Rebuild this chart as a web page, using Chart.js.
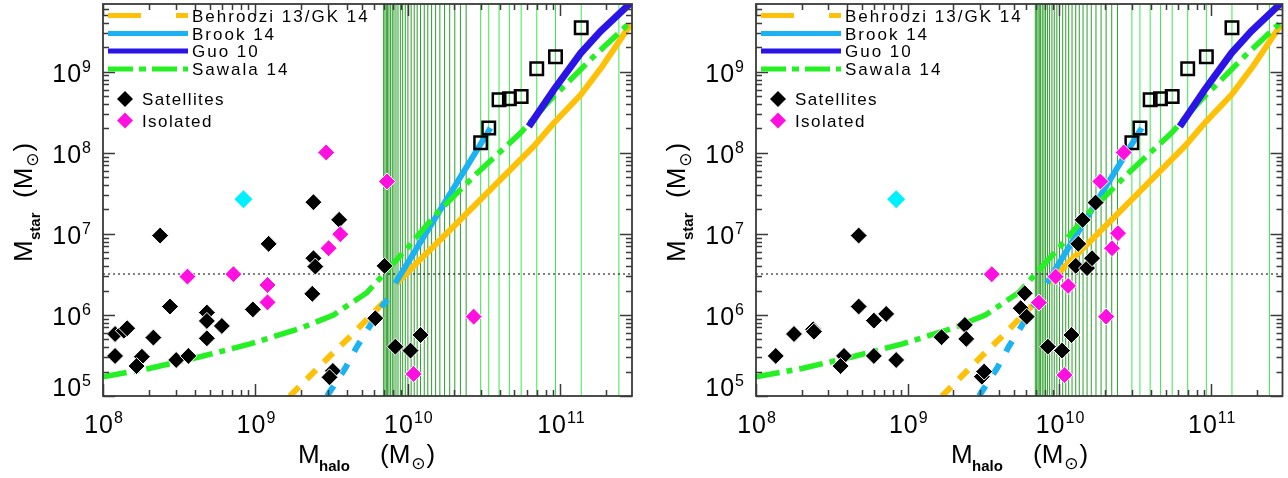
<!DOCTYPE html>
<html>
<head>
<meta charset="utf-8">
<script src="https://cdn.jsdelivr.net/npm/chart.js@4.4.1/dist/chart.umd.min.js"></script>
<style>
  html, body { margin: 0; padding: 0; background: #fff; }
  #wrap { position: relative; width: 1288px; height: 478px; }
  .panel { position: absolute; top: 0; width: 644px; height: 478px; }
</style>
</head>
<body>
<div id="wrap">
  <div class="panel" style="left:0"><canvas id="left"></canvas></div>
  <div class="panel" style="left:644px"><canvas id="right"></canvas></div>
</div>
<script>
// ============================================================
// Mstar vs Mhalo — two log-log panels
// ============================================================

const X_MIN = 1e8, X_MAX = 2.95e11;
const Y_MIN = 1e5, Y_MAX = 6.85e9;
const STAR_LIMIT = 3.2e6;

const X_DECADES = [8, 9, 10, 11];
const Y_DECADES = [5, 6, 7, 8, 9];

const legendNames = ['Behroozi 13/GK 14', 'Brook 14', 'Guo 10', 'Sawala 14'];
const markerNames = ['Satellites', 'Isolated'];

// ── model relations (shared by both panels) ─────────────────
const behrooziDashHalo = [1.68e9, 3.13e9, 4.14e9, 7.11e9, 7.59e9];
const behrooziDashStar = [1.00e5, 3.21e5, 5.31e5, 1.50e6, 1.70e6];
const behrooziHalo = [8.47e9, 1.17e10, 1.63e10, 3.30e10, 6.68e10, 9.06e10, 1.36e11, 1.88e11, 2.88e11];
const behrooziStar = [2.46e6, 4.57e6, 8.43e6, 3.18e7, 1.20e8, 2.33e8, 5.20e8, 1.16e9, 3.80e9];

const brookDashHalo = [2.95e9, 3.88e9, 4.63e9, 6.87e9, 7.33e9];
const brookDashStar = [1.00e5, 2.20e5, 4.06e5, 1.33e6, 1.55e6];
const brookHalo = [8.26e9, 3.48e10];
const brookStar = [2.46e6, 2.02e8];

const guoHalo = [6.21e10, 9.06e10, 1.36e11, 1.83e11, 2.81e11, 2.95e11];
const guoStar = [2.11e8, 6.00e8, 1.70e9, 3.15e9, 6.71e9, 7.24e9];

const sawalaHalo = [1.00e8, 2.04e8, 4.34e8, 9.23e8, 1.97e9, 3.25e9, 5.38e9, 8.05e9, 1.01e10,
                    1.55e10, 2.84e10, 5.47e10, 8.61e10, 1.66e11, 2.95e11];
const sawalaStar = [1.72e5, 2.20e5, 3.05e5, 4.39e5, 6.85e5, 1.00e6, 1.88e6, 4.35e6, 6.97e6,
                    1.80e7, 5.61e7, 1.75e8, 4.51e8, 1.55e9, 4.27e9];

// open squares (same in both panels)
const squareHalo = [3.00e10, 3.39e10, 3.96e10, 4.63e10, 5.53e10, 7.00e10, 9.29e10, 1.37e11];
const squareStar = [1.33e8, 2.02e8, 4.51e8, 4.64e8, 4.96e8, 1.09e9, 1.53e9, 3.49e9];

// vertical marker lines
const darkLines = [6.93e9, 7.07e9, 7.22e9, 7.36e9, 7.51e9, 7.70e9, 7.90e9, 8.10e9, 8.35e9, 8.61e9,
                   8.92e9, 9.24e9, 9.61e9, 1.00e10, 1.05e10, 1.10e10, 1.15e10, 1.21e10, 1.28e10,
                   1.35e10, 1.43e10, 1.52e10, 1.62e10, 1.74e10, 1.88e10, 2.03e10, 2.21e10, 2.41e10];
const lightLines = [3.00e10, 3.39e10, 3.96e10, 4.63e10, 5.53e10, 7.00e10, 9.29e10, 1.37e11, 2.42e11];

// ── left panel points ───────────────────────────────────────
const satHaloL = [1.20e8, 1.37e8, 1.44e8, 1.20e8, 1.80e8, 1.66e8, 2.14e8, 2.37e8, 2.75e8, 3.02e8,
                  3.63e8, 4.80e8, 4.80e8, 4.80e8, 6.02e8, 9.61e8, 1.22e9, 2.40e9, 2.40e9, 2.47e9,
                  2.36e9, 3.54e9, 7.03e9, 6.11e9, 3.22e9, 3.06e9, 8.27e9, 1.04e10, 1.21e10];
const satStarL = [5.82e5, 6.40e5, 6.85e5, 3.12e5, 3.05e5, 2.34e5, 5.25e5, 9.53e6, 1.27e6, 2.78e5,
                  3.12e5, 1.07e6, 8.43e5, 5.15e5, 7.31e5, 1.17e6, 7.53e6, 2.46e7, 5.01e6, 3.95e6,
                  1.82e6, 1.49e7, 4.03e6, 9.10e5, 2.04e5, 1.70e5, 4.06e5, 3.63e5, 5.66e5];
const isoHaloL = [2.91e9, 7.29e9, 3.60e9, 3.02e9, 3.58e8, 7.17e8, 1.20e9, 1.20e9, 2.70e10, 1.09e10];
const isoStarL = [1.01e8, 4.43e7, 9.91e6, 6.65e6, 2.97e6, 3.18e6, 2.34e6, 1.43e6, 9.53e5, 1.87e5];
const oddHaloL = [8.34e8];
const oddStarL = [2.68e7];

// ── right panel points ──────────────────────────────────────
const satHaloR = [1.35e8, 1.78e8, 2.38e8, 2.41e8, 4.75e8, 4.75e8, 5.98e8, 7.21e8, 3.80e8, 3.61e8,
                  5.98e8, 8.39e8, 1.67e9, 2.38e9, 2.43e9, 3.08e9, 3.19e9, 5.90e9, 5.55e9, 6.08e9,
                  8.39e9, 1.04e10, 1.20e10, 1.28e10, 1.52e10, 1.64e10, 1.33e10, 1.42e10, 1.73e10];
const satStarR = [3.12e5, 5.82e5, 6.65e5, 6.22e5, 9.53e6, 1.27e6, 8.51e5, 1.03e6, 3.12e5, 2.34e5,
                  3.12e5, 2.78e5, 5.31e5, 7.53e5, 5.06e5, 1.73e5, 2.00e5, 1.85e6, 1.21e6, 9.53e5,
                  4.06e5, 3.63e5, 5.66e5, 4.03e6, 3.78e6, 5.01e6, 7.53e6, 1.49e7, 2.43e7];
const isoHaloR = [3.58e9, 7.32e9, 9.43e9, 1.14e10, 2.65e10, 1.86e10, 2.43e10, 2.22e10, 2.03e10, 1.08e10];
const isoStarR = [3.18e6, 1.42e6, 2.97e6, 2.28e6, 1.01e8, 4.43e7, 1.02e7, 6.65e6, 9.53e5, 1.81e5];
const oddHaloR = [8.39e8];
const oddStarR = [2.68e7];

// ── colours ─────────────────────────────────────────────────
const C_ORANGE = '#ffc107';
const C_CYAN   = '#1ab2f2';
const C_BLUE   = '#2b14e8';
const C_GREEN  = '#24f024';
const C_MAG    = '#ff10e0';
const C_AQUA   = '#00f0ff';
const C_AXIS   = '#3a3a3a';
const FONT     = '"Liberation Sans", Arial, sans-serif';

const zip = (xs, ys) => xs.map((x, i) => ({ x, y: ys[i] }));
const vlines = xs => xs.flatMap(x => [{ x, y: Y_MIN }, { x, y: Y_MAX }, { x, y: null }]);

function lineSet(data, color, width, dash, order) {
  return { type: 'line', data, borderColor: color, borderWidth: width, borderDash: dash || [],
           pointRadius: 0, fill: false, tension: 0, order, spanGaps: false };
}
function markerSet(data, fill, style, radius, order, border, bw) {
  return { type: 'scatter', data, backgroundColor: fill, borderColor: border, borderWidth: bw,
           pointStyle: style, pointRadius: radius, pointHoverRadius: radius, order };
}

// ── axis frame, ticks, labels, legend ───────────────────────
function supText(ctx, exp, x, yBase, align) {
  ctx.letterSpacing = '1px';
  ctx.font = '25px ' + FONT;
  const wb = ctx.measureText('10').width;
  ctx.font = '16px ' + FONT;
  const ws = ctx.measureText(String(exp)).width;
  const sx = align === 'center' ? x - (wb + ws) / 2 : x - (wb + ws);
  ctx.font = '25px ' + FONT;
  ctx.fillText('10', sx, yBase);
  ctx.font = '16px ' + FONT;
  ctx.fillText(String(exp), sx + wb, yBase - 10);
  ctx.letterSpacing = '0px';
}

const framePlugin = {
  id: 'frame',
  afterDraw(chart) {
    const { ctx, chartArea: a, scales: { x, y } } = chart;
    ctx.save();
    ctx.fillStyle = '#000';
    ctx.textBaseline = 'alphabetic';
    ctx.textAlign = 'left';

    // ticks
    ctx.strokeStyle = C_AXIS;
    ctx.lineWidth = 1.5;
    ctx.beginPath();
    X_DECADES.forEach(d => {
      for (let m = 1; m <= 9; m++) {
        const v = m * Math.pow(10, d);
        if (v < X_MIN || v > X_MAX) continue;
        const px = Math.round(x.getPixelForValue(v)) + 0.5;
        const len = m === 1 ? 12 : 6;
        ctx.moveTo(px, a.bottom); ctx.lineTo(px, a.bottom - len);
        ctx.moveTo(px, a.top); ctx.lineTo(px, a.top + len);
      }
    });
    Y_DECADES.forEach(d => {
      for (let m = 1; m <= 9; m++) {
        const v = m * Math.pow(10, d);
        if (v < Y_MIN || v > Y_MAX) continue;
        const py = Math.round(y.getPixelForValue(v)) + 0.5;
        const len = m === 1 ? 12 : 6;
        ctx.moveTo(a.left, py); ctx.lineTo(a.left + len, py);
        ctx.moveTo(a.right, py); ctx.lineTo(a.right - len, py);
      }
    });
    ctx.stroke();

    ctx.lineWidth = 1.8;
    ctx.strokeRect(a.left, a.top, a.right - a.left, a.bottom - a.top);

    // tick labels
    X_DECADES.forEach(d => {
      supText(ctx, d, x.getPixelForValue(Math.pow(10, d)) + 1, 433, 'center');
    });
    Y_DECADES.forEach(d => {
      const py = y.getPixelForValue(Math.pow(10, d));
      supText(ctx, d, a.left - 11, Math.min(py + 10, a.bottom), 'right');
    });

    // x title
    const x0 = a.left + 195;
    ctx.font = '26px ' + FONT;
    ctx.fillText('M', x0, 463);
    ctx.font = 'bold 15px ' + FONT;
    ctx.fillText('halo', x0 + 21, 471);
    ctx.font = '26px ' + FONT;
    ctx.fillText('(M', x0 + 82, 463);
    let w = ctx.measureText('(M').width;
    ctx.font = '17px "DejaVu Sans"';
    ctx.fillText('\u2299', x0 + 82 + w + 1, 469);
    const ws = ctx.measureText('\u2299').width;
    ctx.font = '26px ' + FONT;
    ctx.fillText(')', x0 + 82 + w + ws + 2, 463);

    // y title
    ctx.save();
    ctx.translate(a.left - 71, 262);
    ctx.rotate(-Math.PI / 2);
    ctx.font = '26px ' + FONT;
    ctx.fillText('M', 0, 0);
    ctx.font = 'bold 15px ' + FONT;
    ctx.fillText('star', 22, 8);
    ctx.font = '26px ' + FONT;
    ctx.fillText('(M', 64, 0);
    w = ctx.measureText('(M').width;
    ctx.font = '17px "DejaVu Sans"';
    ctx.fillText('\u2299', 64 + w + 1, 6);
    ctx.font = '26px ' + FONT;
    ctx.fillText(')', 64 + w + ws + 2, 0);
    ctx.restore();

    // legend: model lines
    const lx0 = a.left + 5, lx1 = a.left + 85, tx = a.left + 89;
    const rowBase = [21.5, 39.5, 57, 75];
    const styles = [
      { c: C_ORANGE, d: [33, 35] },
      { c: C_CYAN, d: [] },
      { c: C_BLUE, d: [] },
      { c: C_GREEN, d: [25, 6, 7, 6] },
    ];
    ctx.font = '17px ' + FONT;
    ctx.letterSpacing = '2px';
    legendNames.forEach((name, i) => {
      const ly = rowBase[i] - 6;
      ctx.strokeStyle = styles[i].c;
      ctx.lineWidth = 5;
      ctx.setLineDash(styles[i].d);
      ctx.beginPath(); ctx.moveTo(lx0, ly); ctx.lineTo(lx1, ly); ctx.stroke();
      ctx.setLineDash([]);
      ctx.fillStyle = '#000';
      ctx.fillText(name, tx, rowBase[i]);
    });

    // legend: markers
    ctx.letterSpacing = '1.4px';
    const mk = [{ c: '#000', yb: 105, cy: 99 }, { c: C_MAG, yb: 127, cy: 120.5 }];
    markerNames.forEach((name, i) => {
      const cx = a.left + 22, cy = mk[i].cy, r = 8;
      ctx.fillStyle = mk[i].c;
      ctx.beginPath();
      ctx.moveTo(cx, cy - r); ctx.lineTo(cx + r, cy); ctx.lineTo(cx, cy + r); ctx.lineTo(cx - r, cy);
      ctx.closePath(); ctx.fill();
      ctx.fillStyle = '#000';
      ctx.fillText(name, a.left + 39, mk[i].yb);
    });
    ctx.letterSpacing = '0px';
    ctx.restore();
  }
};

function makePanel(id, pad, sat, iso, odd) {
  const datasets = [
    markerSet(iso, C_MAG, 'rectRot', 8.5, 0, '#fff', 1),
    markerSet(sat, '#000', 'rectRot', 8.5, 1, '#fff', 1),
    markerSet(odd, C_AQUA, 'rectRot', 9, 1, C_AQUA, 0),
    markerSet(zip(squareHalo, squareStar), 'rgba(0,0,0,0)', 'rect', 8.8, 2, '#000', 2.5),
    lineSet(zip(guoHalo, guoStar), C_BLUE, 7, null, 3),
    lineSet(zip(brookHalo, brookStar), C_CYAN, 6, null, 4),
    lineSet(zip(brookDashHalo, brookDashStar), C_CYAN, 6, [12, 14], 4),
    lineSet(zip(sawalaHalo, sawalaStar), C_GREEN, 5.5, [24, 7, 6, 7], 3),
    lineSet(zip(behrooziHalo, behrooziStar), C_ORANGE, 6, null, 5),
    lineSet(zip(behrooziDashHalo, behrooziDashStar), C_ORANGE, 6, [13, 11], 5),
    lineSet([{ x: X_MIN, y: STAR_LIMIT }, { x: X_MAX, y: STAR_LIMIT }], '#000', 1, [2, 3], 6),
    lineSet(vlines(lightLines), '#3ee84e', 1, null, 7),
    lineSet(vlines(darkLines), '#2a9e2a', 1, null, 7),
  ];

  return new Chart(document.getElementById(id), {
    type: 'scatter',
    data: { datasets },
    options: {
      responsive: true,
      maintainAspectRatio: false,
      animation: false,
      layout: { padding: pad, autoPadding: false },
      plugins: { legend: { display: false }, tooltip: { enabled: false } },
      scales: {
        x: { type: 'logarithmic', min: X_MIN, max: X_MAX, display: false },
        y: { type: 'logarithmic', min: Y_MIN, max: Y_MAX, display: false },
      },
    },
    plugins: [framePlugin],
  });
}

makePanel('left', { left: 103, right: 12, top: 4, bottom: 82 },
  zip(satHaloL, satStarL), zip(isoHaloL, isoStarL), zip(oddHaloL, oddStarL));
makePanel('right', { left: 112, right: 5.5, top: 4, bottom: 82 },
  zip(satHaloR, satStarR), zip(isoHaloR, isoStarR), zip(oddHaloR, oddStarR));
</script>
</body>
</html>
